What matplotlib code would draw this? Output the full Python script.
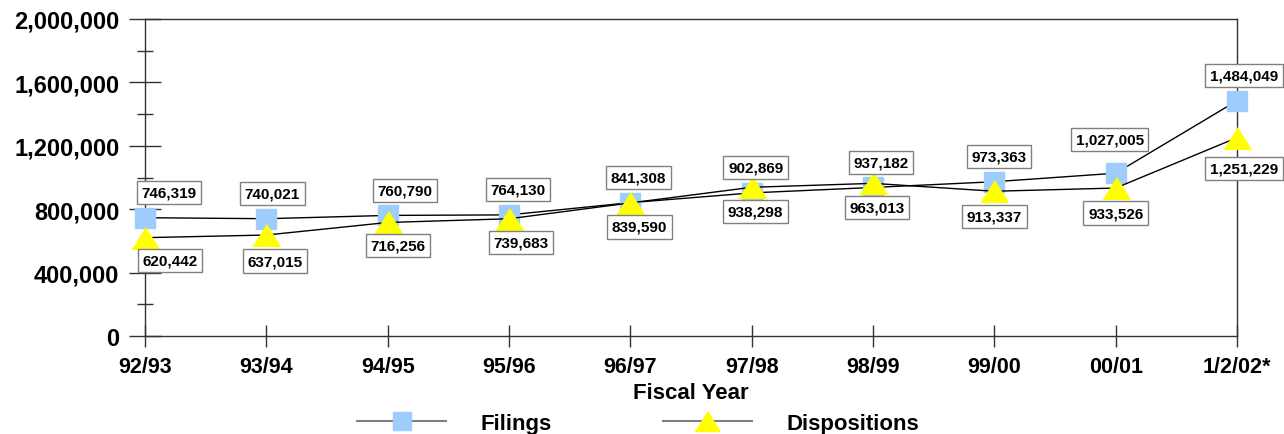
#!/usr/bin/env python3
"""Filings and dispositions by fiscal year, line chart with boxed value labels."""

import matplotlib

matplotlib.use("Agg")
import matplotlib.pyplot as plt
from matplotlib.lines import Line2D
from matplotlib.ticker import FuncFormatter, MultipleLocator

YEARS = ["92/93", "93/94", "94/95", "95/96", "96/97", "97/98", "98/99", "99/00", "00/01", "1/2/02*"]
FILINGS = [746319, 740021, 760790, 764130, 841308, 902869, 937182, 973363, 1027005, 1484049]
DISPOSITIONS = [620442, 637015, 716256, 739683, 839590, 938298, 963013, 913337, 933526, 1251229]

# label placement (pixel nudges from each marker), layout only
F_DX = [24, 6, 17, 9, 8, 4, 8, 5, -6, 7]
F_DY = [25, 25, 25, 25, 25, 25, 25, 25, 34, 25]
D_DX = [25, 9, 10, 12, 9, 4, 4, 0, 0, 7]
D_DY = [-23, -26, -23, -24, -24, -24, -24, -25, -25, -31]

BLUE = "#9fcdfb"
YELLOW = "#ffff00"
TRI = [(-1, -0.8), (1, -0.8), (0, 0.8)]
PX = 0.72  # points per pixel at dpi 100

plt.rcParams["font.family"] = ["Liberation Sans", "DejaVu Sans"]
plt.rcParams["font.weight"] = "bold"

fig = plt.figure(figsize=(12.84, 4.35), dpi=100)
ax = fig.add_axes([145 / 1284, 1 - 337 / 435, (1237 - 145) / 1284, (337 - 20) / 435])

x = list(range(len(YEARS)))
ax.plot(x, FILINGS, color="black", lw=1.0, marker="s", ms=14.5,
        mfc=BLUE, mec=BLUE, zorder=3, clip_on=False)
ax.plot(x, DISPOSITIONS, color="black", lw=1.0, marker=TRI, ms=19.5,
        mfc=YELLOW, mec=YELLOW, zorder=4, clip_on=False)

box = dict(boxstyle="square,pad=0.3", fc="white", ec="#808080", lw=1.0)
for i, (f, d) in enumerate(zip(FILINGS, DISPOSITIONS)):
    ax.annotate(f"{f:,}", (i, f), xytext=(F_DX[i] * PX, F_DY[i] * PX), textcoords="offset points",
                ha="center", va="center", fontsize=11, fontweight="bold",
                bbox=box, zorder=6, annotation_clip=False)
    ax.annotate(f"{d:,}", (i, d), xytext=(D_DX[i] * PX, D_DY[i] * PX), textcoords="offset points",
                ha="center", va="center", fontsize=11, fontweight="bold",
                bbox=box, zorder=6, annotation_clip=False)

ax.set_xlim(0, len(YEARS) - 1)
ax.set_ylim(0, 2000000)
ax.set_xticks(x)
ax.set_xticklabels(YEARS)
ax.yaxis.set_major_locator(MultipleLocator(400000))
ax.yaxis.set_minor_locator(MultipleLocator(200000))
ax.yaxis.set_major_formatter(FuncFormatter(lambda v, _: f"{int(v):,}"))

ax.tick_params(axis="y", which="major", direction="inout", length=23, width=1,
               pad=7, labelsize=17, color="#333333")
ax.tick_params(axis="y", which="minor", direction="inout", length=11, width=1, color="#333333")
ax.tick_params(axis="x", which="major", direction="inout", length=16.5, width=1,
               pad=6, labelsize=15.5, color="#333333")
for lab in ax.get_xticklabels() + ax.get_yticklabels():
    lab.set_fontweight("bold")

for side in ["left", "right", "top", "bottom"]:
    ax.spines[side].set_color("#333333")
    ax.spines[side].set_linewidth(1.0)

ax.set_xlabel("Fiscal Year", fontsize=16, fontweight="bold", labelpad=4)

handles = [
    Line2D([], [], color="#808080", lw=1.5, marker="s", ms=13, mfc=BLUE, mec=BLUE),
    Line2D([], [], color="#808080", lw=1.5, marker=TRI, ms=18, mfc=YELLOW, mec=YELLOW),
]
fig.legend(handles, ["Filings", "Dispositions"], loc="center", bbox_to_anchor=(0.497, 0.025),
           ncol=2, frameon=False, handlelength=4.0, handletextpad=1.55, columnspacing=5.0,
           prop={"size": 16, "weight": "bold"})

fig.savefig("out.png", dpi=100)
